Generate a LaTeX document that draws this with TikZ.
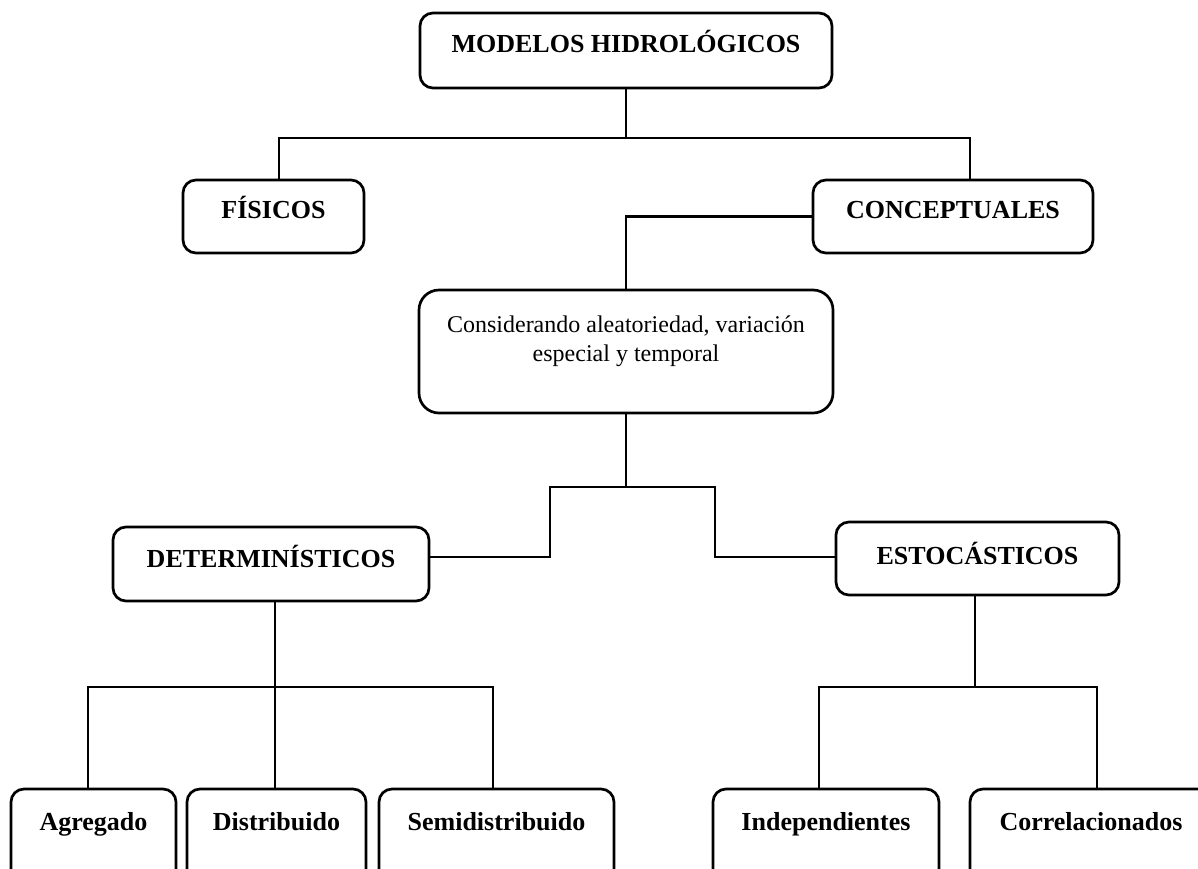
\documentclass[tikz,border=0pt]{standalone}
\usepackage{fontspec}
\setmainfont{Liberation Serif}
\begin{document}
\begin{tikzpicture}[x=0.5pt,y=-0.5pt,
  box/.style={draw, line width=1.35pt, rounded corners=6.5pt, inner sep=0pt,
    font=\fontsize{13pt}{15.6pt}\selectfont\bfseries, text depth=0pt},
  leaf/.style={box, minimum height=48pt, text height=0pt, text depth=7pt},
  conn/.style={line width=1.35pt}]
\useasboundingbox (0,0) rectangle (1198,868);
\clip (0,0) rectangle (1198,868);

% boxes
\node[box, minimum width=206pt, minimum height=37.5pt, text height=2pt] (mod) at (626,50.5) {MODELOS HIDROLÓGICOS};
\node[box, minimum width=90.5pt, minimum height=36.5pt, text height=2pt] (fis) at (273.5,216.5) {FÍSICOS};
\node[box, minimum width=140pt, minimum height=36.5pt, text height=2pt] (con) at (953,216.5) {CONCEPTUALES};
\node[box, rounded corners=10pt, font=\fontsize{12pt}{14.5pt}\selectfont,
  minimum width=207pt, minimum height=61.5pt, text height=0pt] (cons) at (626,351.5)
  {\raisebox{-5pt}[0pt][0pt]{\begin{tabular}[b]{@{}c@{}}Considerando aleatoriedad, variación\\ especial y temporal\end{tabular}}};
\node[box, minimum width=158pt, minimum height=37pt, text height=3.5pt] (det) at (271,564) {DETERMINÍSTICOS};
\node[box, minimum width=141.5pt, minimum height=36.5pt, text height=6pt] (est) at (977.5,558.5) {ESTOCÁSTICOS};

\node[leaf, minimum width=82.5pt] (agr) at (93.5,837) {Agregado};
\node[leaf, minimum width=89.5pt] (dis) at (276.5,837) {Distribuido};
\node[leaf, minimum width=117.5pt] (sem) at (496.5,837) {Semidistribuido};
\node[leaf, minimum width=113pt] (ind) at (826,837) {Independientes};
\node[leaf, minimum width=121pt] (cor) at (1091,837) {Correlacionados};

% connectors
\coordinate (t1) at (279,138);
\coordinate (t2) at (970,138);
\draw[conn] (mod.south) -- (mod.south |- t1);
\draw[conn] (t1 |- fis.north) -- (t1) -- (t2) -- (t2 |- con.north);

\draw[conn] (con.west) -- (con.west -| cons.north) -- (cons.north);

\coordinate (b1) at (550,487);
\coordinate (b2) at (715,487);
\coordinate (c1) at (550,557);
\coordinate (c2) at (715,557);
\draw[conn] (cons.south) -- (cons.south |- b1);
\draw[conn] (c1 -| det.east) -- (c1) -- (b1) -- (b2) -- (c2) -- (c2 -| est.west);

\coordinate (l1) at (88,687);
\coordinate (l2) at (275,687);
\coordinate (l3) at (493,687);
\draw[conn] (l2 |- det.south) -- (l2);
\draw[conn] (l1 |- agr.north) -- (l1) -- (l3) -- (l3 |- sem.north);
\draw[conn] (l2) -- (l2 |- dis.north);

\coordinate (r0) at (975,687);
\coordinate (r1) at (819,687);
\coordinate (r2) at (1097,687);
\draw[conn] (r0 |- est.south) -- (r0);
\draw[conn] (r1 |- ind.north) -- (r1) -- (r2) -- (r2 |- cor.north);
\end{tikzpicture}
\end{document}
